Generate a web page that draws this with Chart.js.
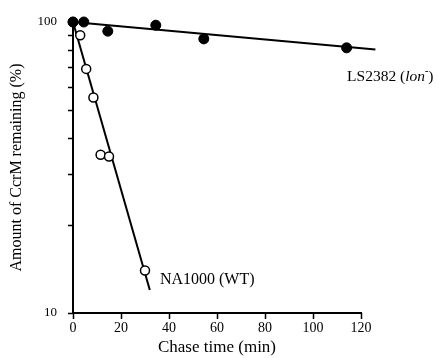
<!DOCTYPE html>
<html>
<head>
<meta charset="utf-8">
<script src="https://cdn.jsdelivr.net/npm/chart.js@4/dist/chart.umd.min.js"></script>
<style>
  html, body { margin: 0; padding: 0; background: #fff; }
</style>
</head>
<body>
<canvas id="decayChart" width="438" height="358"></canvas>
<script>
// LS2382 (lon-) - filled circles
const lonTimes = [0, 4.5, 14.5, 34.5, 54.5, 114];
const lonValues = [100, 100, 93, 97.5, 87.5, 81.5];
// NA1000 (WT) - open circles
const wtTimes = [0, 3, 5.5, 8.5, 11.5, 15, 30];
const wtValues = [100, 90, 69, 55, 35, 34.5, 14];
// fitted lines (start / end)
const lonFitTimes = [0, 126];
const lonFitValues = [100, 80.5];
const wtFitTimes = [0, 32];
const wtFitValues = [100, 12];

const xTicks = [0, 20, 40, 60, 80, 100, 120];
const yTicks = [10, 20, 30, 40, 50, 60, 70, 80, 90, 100];
const yLabelled = [10, 100];

const serif = "'Liberation Serif', 'Times New Roman', serif";

function pts(xs, ys) {
    return xs.map((x, i) => ({ x: x, y: ys[i] }));
}

// short outward tick marks on both axes, placed by the scales
const axisTicks = {
    id: 'axisTicks',
    afterDraw(chart) {
        const c = chart.ctx;
        const xs = chart.scales.x, ys = chart.scales.y;
        const area = chart.chartArea;
        c.save();
        c.strokeStyle = '#000';
        c.lineWidth = 1.5;
        c.beginPath();
        xTicks.forEach(v => {
            const px = Math.round(xs.getPixelForValue(v)) + 0.5;
            c.moveTo(px, area.bottom);
            c.lineTo(px, area.bottom + 6);
        });
        yTicks.forEach(v => {
            const py = Math.round(ys.getPixelForValue(v)) + 0.5;
            c.moveTo(area.left, py);
            c.lineTo(area.left - 5, py);
        });
        c.stroke();
        c.restore();
    }
};

// strain names next to the curves
const strainLabels = {
    id: 'strainLabels',
    afterDatasetsDraw(chart) {
        const c = chart.ctx;
        const xs = chart.scales.x, ys = chart.scales.y;
        c.save();
        c.fillStyle = '#000';
        c.textBaseline = 'alphabetic';
        c.textAlign = 'left';

        // NA1000 (WT)
        c.font = '16px ' + serif;
        c.fillText('NA1000 (WT)', xs.getPixelForValue(36.2), ys.getPixelForValue(12.6));

        // LS2382 (lon-)
        let x = xs.getPixelForValue(114.2);
        const y = ys.getPixelForValue(62.7);
        c.font = '15.5px ' + serif;
        c.fillText('LS2382 (', x, y);
        x += c.measureText('LS2382 (').width;
        c.font = 'italic 15.5px ' + serif;
        c.fillText('lon', x, y);
        x += c.measureText('lon').width;
        c.font = 'bold 10px ' + serif;
        c.fillText('-', x, y - 7);
        x += c.measureText('-').width;
        c.font = '15.5px ' + serif;
        c.fillText(')', x, y);
        c.restore();
    }
};

const ctx = document.getElementById('decayChart').getContext('2d');
const decayChart = new Chart(ctx, {
    type: 'scatter',
    data: {
        datasets: [
            {
                label: 'LS2382 (lon-)',
                data: pts(lonTimes, lonValues),
                showLine: false,
                pointRadius: 5,
                pointBackgroundColor: '#000',
                pointBorderColor: '#000',
                pointBorderWidth: 1,
                clip: false
            },
            {
                label: 'NA1000 (WT)',
                data: pts(wtTimes, wtValues),
                showLine: false,
                pointRadius: 4.5,
                pointBackgroundColor: '#fff',
                pointBorderColor: '#000',
                pointBorderWidth: 1.5,
                clip: false
            },
            {
                label: 'LS2382 fit',
                data: pts(lonFitTimes, lonFitValues),
                showLine: true,
                borderColor: '#000',
                borderWidth: 2,
                pointRadius: 0,
                clip: false
            },
            {
                label: 'NA1000 fit',
                data: pts(wtFitTimes, wtFitValues),
                showLine: true,
                borderColor: '#000',
                borderWidth: 2,
                pointRadius: 0,
                clip: false
            }
        ]
    },
    options: {
        responsive: false,
        animation: false,
        events: [],
        layout: { padding: { top: 22, right: 77, left: 0, bottom: 0 } },
        plugins: {
            legend: { display: false },
            tooltip: { enabled: false }
        },
        scales: {
            x: {
                type: 'linear',
                min: 0,
                max: 120,
                afterFit(scale) { scale.height = 45; },
                afterBuildTicks(scale) { scale.ticks = xTicks.map(v => ({ value: v })); },
                grid: { display: false, drawTicks: true, tickLength: 6 },
                border: { display: true, color: '#000', width: 2 },
                ticks: { color: '#000', font: { family: serif, size: 14 }, padding: 1, maxRotation: 0 },
                title: { display: true, text: 'Chase time (min)', color: '#000', font: { family: serif, size: 17 }, padding: { top: 0, bottom: 0 } }
            },
            y: {
                type: 'logarithmic',
                min: 10,
                max: 100,
                afterFit(scale) { scale.width = 73; },
                afterBuildTicks(scale) { scale.ticks = yTicks.map(v => ({ value: v })); },
                grid: { display: false, drawTicks: true, tickLength: 5 },
                border: { display: true, color: '#000', width: 2 },
                ticks: {
                    color: '#000',
                    font: { family: serif, size: 13 },
                    padding: 11,
                    autoSkip: false,
                    callback: v => yLabelled.includes(v) ? String(v) : ''
                },
                title: { display: true, text: 'Amount of CcrM remaining (%)', color: '#000', font: { family: serif, size: 16 }, padding: { top: 7, bottom: 0 } }
            }
        }
    },
    plugins: [axisTicks, strainLabels]
});
</script>
</body>
</html>
